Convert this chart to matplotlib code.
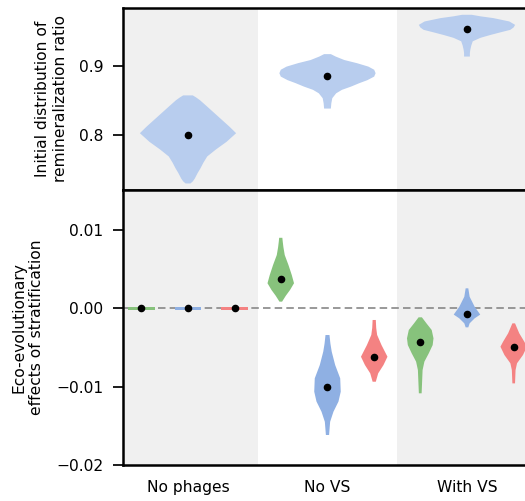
import numpy as np
import matplotlib
matplotlib.use("Agg")
import matplotlib.pyplot as plt

plt.rcParams["font.family"] = ["DejaVu Sans"]
plt.rcParams["font.size"] = 11.2

groups = ["No phages", "No VS", "With VS"]
hues = ["green", "blue", "red"]
hue_colors = ["#87c27c", "#8fb0e3", "#f48282"]
hue_offsets = [-0.335, 0.0, 0.335]
top_color = "#b8cdee"

# --- Initial remineralization ratio: density profiles (value, relative density) ---
top_np_y = [0.730, 0.733, 0.737, 0.745, 0.752, 0.760, 0.769, 0.779, 0.790, 0.8025,
            0.812, 0.822, 0.832, 0.842, 0.850, 0.854, 0.857]
top_np_d = [0.05, 0.10, 0.14, 0.20, 0.26, 0.32, 0.40, 0.58, 0.80, 1.00,
            0.86, 0.70, 0.54, 0.38, 0.25, 0.17, 0.10]
top_novs_y = [0.838, 0.8457, 0.853, 0.860, 0.865, 0.8697, 0.8746, 0.879, 0.8841,
              0.889, 0.894, 0.8985, 0.9035, 0.908, 0.913, 0.9165]
top_novs_d = [0.07, 0.08, 0.10, 0.18, 0.30, 0.49, 0.66, 0.83, 0.97,
              1.00, 0.97, 0.85, 0.61, 0.35, 0.17, 0.07]
top_wvs_y = [0.913, 0.918, 0.923, 0.929, 0.935, 0.940, 0.944, 0.948, 0.9515,
             0.955, 0.9587, 0.9636, 0.9684, 0.971, 0.9732]
top_wvs_d = [0.06, 0.06, 0.07, 0.09, 0.12, 0.28, 0.48, 0.70, 0.90,
             0.97, 1.00, 0.88, 0.55, 0.28, 0.10]
top_medians = [0.800, 0.885, 0.9525]

# --- Eco-evolutionary effects of stratification: density profiles ---
np_flat_y = [-0.00017, 0.00017]
np_flat_d = [1.0, 1.0]

novs_green_y = [0.00085, 0.0016, 0.00234, 0.0032, 0.00425, 0.00553, 0.0068, 0.0078, 0.0085, 0.0090]
novs_green_d = [0.10, 0.38, 0.70, 1.00, 0.83, 0.58, 0.30, 0.20, 0.15, 0.12]
novs_blue_y = [-0.01617, -0.01448, -0.0132, -0.0119, -0.01064, -0.00894, -0.00724, -0.00554, -0.0045, -0.00341]
novs_blue_d = [0.12, 0.20, 0.45, 0.83, 1.00, 0.96, 0.58, 0.32, 0.22, 0.15]
novs_red_y = [-0.00937, -0.0083, -0.00724, -0.00618, -0.00469, -0.0034, -0.0025, -0.00149]
novs_red_d = [0.12, 0.30, 0.70, 1.00, 0.55, 0.22, 0.15, 0.12]

wvs_green_y = [-0.01085, -0.00915, -0.00788, -0.00681, -0.00574, -0.00469, -0.00383, -0.00277, -0.00192, -0.00115]
wvs_green_d = [0.10, 0.14, 0.17, 0.30, 0.62, 0.90, 0.96, 0.83, 0.45, 0.12]
wvs_blue_y = [-0.00243, -0.00192, -0.00128, -0.0008, 0.0002, 0.00148, 0.00255]
wvs_blue_d = [0.10, 0.20, 0.58, 1.00, 0.58, 0.20, 0.10]
wvs_red_y = [-0.00958, -0.00788, -0.00702, -0.00596, -0.0049, -0.00426, -0.00319, -0.00192]
wvs_red_d = [0.10, 0.14, 0.25, 0.70, 1.00, 0.80, 0.42, 0.10]

bottom_medians = [[0.0, 0.0, 0.0],
                  [0.0037, -0.0100, -0.0062],
                  [-0.0043, -0.0007, -0.0049]]

bottom_profiles = [
    [(np_flat_y, np_flat_d), (np_flat_y, np_flat_d), (np_flat_y, np_flat_d)],
    [(novs_green_y, novs_green_d), (novs_blue_y, novs_blue_d), (novs_red_y, novs_red_d)],
    [(wvs_green_y, wvs_green_d), (wvs_blue_y, wvs_blue_d), (wvs_red_y, wvs_red_d)],
]
top_profiles = [(top_np_y, top_np_d), (top_novs_y, top_novs_d), (top_wvs_y, top_wvs_d)]


def stats(y, d, med):
    y = np.asarray(y, float)
    return dict(coords=y, vals=np.asarray(d, float), mean=med, median=med,
                min=y.min(), max=y.max())


W, H = 525, 501
fig = plt.figure(figsize=(W / 100, H / 100), dpi=100)
left = 123 / W
ax_top = fig.add_axes([left, 1 - 190 / H, 1 - left, (190 - 8) / H])
ax_bot = fig.add_axes([left, 1 - 465 / H, 1 - left, (465 - 190) / H], sharex=ax_top)

xlim = (-0.466, 2.416)
for ax in (ax_top, ax_bot):
    for g in range(len(groups)):
        if g % 2 == 0:
            ax.axvspan(g - 0.5, g + 0.5, color="#f0f0f0", lw=0, zorder=0)
    ax.set_xlim(*xlim)
    for s in ("left", "top", "bottom"):
        ax.spines[s].set_linewidth(1.8)
    ax.spines["right"].set_visible(False)
    ax.tick_params(axis="y", length=7, width=1.25, pad=7)

# top panel
vp = ax_top.violin([stats(y, d, m) for (y, d), m in zip(top_profiles, top_medians)],
                   positions=range(len(groups)), widths=0.69,
                   showmeans=False, showextrema=False, showmedians=False)
for body in vp["bodies"]:
    body.set_facecolor(top_color)
    body.set_edgecolor("none")
    body.set_alpha(1)
    body.set_zorder(2)
ax_top.scatter(range(len(groups)), top_medians, s=20, color="black", zorder=3)
ax_top.set_ylim(0.7206, 0.983)
ax_top.set_yticks([0.8, 0.9])
ax_top.tick_params(axis="x", length=0, labelbottom=False)
ax_top.set_ylabel("Initial distribution of\nremineralization ratio")
ax_top.yaxis.set_label_coords(-0.138, 0.5)

# bottom panel
ax_bot.axhline(0, color="#888888", lw=1.2, ls=(0, (4.5, 2.5)), zorder=1)
for g in range(len(groups)):
    for h in range(len(hues)):
        y, d = bottom_profiles[g][h]
        m = bottom_medians[g][h]
        pos = g + hue_offsets[h]
        vp = ax_bot.violin([stats(y, d, m)], positions=[pos], widths=0.19,
                           showmeans=False, showextrema=False, showmedians=False)
        for body in vp["bodies"]:
            body.set_facecolor(hue_colors[h])
            body.set_edgecolor("none")
            body.set_alpha(1)
            body.set_zorder(2)
        ax_bot.scatter([pos], [m], s=20, color="black", zorder=3)
ax_bot.set_ylim(-0.02, 0.0151)
ax_bot.set_yticks([-0.02, -0.01, 0.0, 0.01])
ax_bot.set_xticks(range(len(groups)))
ax_bot.set_xticklabels(groups)
ax_bot.tick_params(axis="x", length=0, pad=11)
ax_bot.set_ylabel("Eco-evolutionary\neffects of stratification")
ax_bot.yaxis.set_label_coords(-0.196, 0.5)

fig.savefig("out.png", dpi=100)
